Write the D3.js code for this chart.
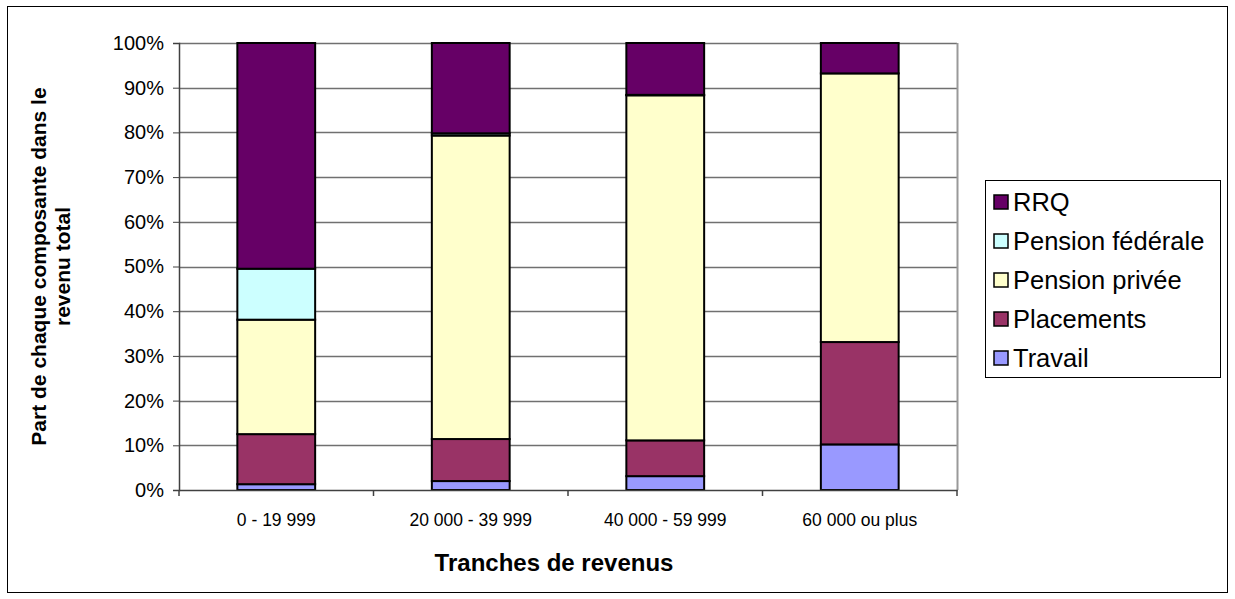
<!DOCTYPE html>
<html>
<head>
<meta charset="utf-8">
<script src="https://cdn.jsdelivr.net/npm/d3@7"></script>
<style>
  body { margin: 0; background: #fff; }
  svg text { font-family: Arial, "Liberation Sans", sans-serif; fill: #000; }
</style>
</head>
<body>
<svg id="chart" width="1235" height="599"></svg>
<script>
// categories and series (percent of total income)
const categories = ["0 - 19 999", "20 000 - 39 999", "40 000 - 59 999", "60 000 ou plus"];
const seriesNames = ["Travail", "Placements", "Pension privée", "Pension fédérale", "RRQ"];
const travail = [1.3, 2.0, 3.1, 10.2];
const placements = [11.2, 9.4, 8.0, 22.9];
const pensionPrivee = [25.6, 67.9, 77.2, 60.1];
const pensionFederale = [11.4, 0.5, 0.1, 0.0];
const rrq = [50.5, 20.2, 11.6, 6.8];
const yTicks = [0, 10, 20, 30, 40, 50, 60, 70, 80, 90, 100];
const colors = ["#9999ff", "#993366", "#ffffcc", "#ccffff", "#660066"];

const svg = d3.select("#chart");

// outer frame
svg.append("rect")
  .attr("x", 7.5).attr("y", 6.5)
  .attr("width", 1220).attr("height", 586)
  .attr("fill", "#fff").attr("stroke", "#000").attr("stroke-width", 1);

const margin = {left: 179, top: 43, right: 957, bottom: 490};

const x = d3.scaleBand()
  .domain(categories)
  .range([margin.left, margin.right])
  .paddingInner(0.6)
  .paddingOuter(0.3);

const y = d3.scaleLinear()
  .domain([0, 100])
  .range([margin.bottom, margin.top]);

// gridlines
svg.append("g")
  .selectAll("line")
  .data(yTicks.slice(1))
  .join("line")
    .attr("x1", margin.left).attr("x2", margin.right)
    .attr("y1", d => Math.round(y(d)) + 0.5)
    .attr("y2", d => Math.round(y(d)) + 0.5)
    .attr("stroke", "#707070").attr("stroke-width", 1.5);

// right border of plot area
svg.append("line")
  .attr("x1", margin.right + 0.5).attr("x2", margin.right + 0.5)
  .attr("y1", margin.top).attr("y2", margin.bottom)
  .attr("stroke", "#999").attr("stroke-width", 2);

// stacked data
const table = categories.map(function(c, i) {
  return {
    cat: c,
    "Travail": travail[i],
    "Placements": placements[i],
    "Pension privée": pensionPrivee[i],
    "Pension fédérale": pensionFederale[i],
    "RRQ": rrq[i]
  };
});
const stacked = d3.stack().keys(seriesNames)(table);

svg.append("g")
  .selectAll("g")
  .data(stacked)
  .join("g")
    .attr("fill", (d, i) => colors[i])
  .selectAll("rect")
  .data(d => d.filter(v => v[1] - v[0] > 0.05))
  .join("rect")
    .attr("x", d => x(d.data.cat))
    .attr("width", x.bandwidth())
    .attr("y", d => y(d[1]))
    .attr("height", d => y(d[0]) - y(d[1]))
    .attr("stroke", "#000")
    .attr("stroke-width", 2);

// y axis
const yAxis = d3.axisLeft(y)
  .tickValues(yTicks)
  .tickSize(6)
  .tickPadding(9)
  .tickFormat(d => d + "%");
const gy = svg.append("g")
  .attr("transform", "translate(" + margin.left + ",0)")
  .call(yAxis);
gy.select(".domain").attr("stroke", "#404040").attr("stroke-width", 1.5);
gy.selectAll(".tick line").attr("stroke", "#404040");
gy.selectAll("text").style("font-size", "20px").attr("fill", "#000");

// x axis
const xAxis = d3.axisBottom(x).tickSize(0).tickPadding(24);
const gx = svg.append("g")
  .attr("transform", "translate(0," + margin.bottom + ")")
  .call(xAxis);
gx.select(".domain").attr("stroke", "#404040").attr("stroke-width", 1.5);
gx.selectAll("text").style("font-size", "17.5px").attr("fill", "#000");

// x category boundary ticks
const step = (margin.right - margin.left) / categories.length;
svg.append("g")
  .selectAll("line")
  .data(d3.range(categories.length + 1))
  .join("line")
    .attr("x1", d => margin.left + d * step)
    .attr("x2", d => margin.left + d * step)
    .attr("y1", margin.bottom)
    .attr("y2", margin.bottom + 6)
    .attr("stroke", "#404040").attr("stroke-width", 1.5);

// axis titles
svg.append("text")
  .attr("x", (margin.left + margin.right) / 2 - 14)
  .attr("y", 571)
  .attr("text-anchor", "middle")
  .style("font-size", "24px")
  .style("font-weight", "bold")
  .text("Tranches de revenus");

const yTitle = svg.append("text")
  .attr("transform", "translate(46," + ((margin.top + margin.bottom) / 2) + ") rotate(-90)")
  .attr("text-anchor", "middle")
  .style("font-size", "21px")
  .style("font-weight", "bold");
yTitle.append("tspan").attr("x", 0).attr("dy", 0).text("Part de chaque composante dans le");
yTitle.append("tspan").attr("x", 0).attr("dy", 24).text("revenu total");

// legend
const legend = svg.append("g");
legend.append("rect")
  .attr("x", 985.5).attr("y", 180.5)
  .attr("width", 235).attr("height", 197)
  .attr("fill", "#fff").attr("stroke", "#000").attr("stroke-width", 1);

const legendItems = seriesNames.slice().reverse();
const legendColors = colors.slice().reverse();
const li = legend.selectAll(".item")
  .data(legendItems)
  .join("g")
    .attr("class", "item")
    .attr("transform", (d, i) => "translate(994," + (202 + i * 39) + ")");
li.append("rect")
  .attr("x", 0).attr("y", -7)
  .attr("width", 14).attr("height", 14)
  .attr("fill", (d, i) => legendColors[i])
  .attr("stroke", "#000").attr("stroke-width", 1.5);
li.append("text")
  .attr("x", 19).attr("y", 0)
  .attr("dy", "0.36em")
  .style("font-size", "25.5px")
  .text(d => d);
</script>
</body>
</html>
